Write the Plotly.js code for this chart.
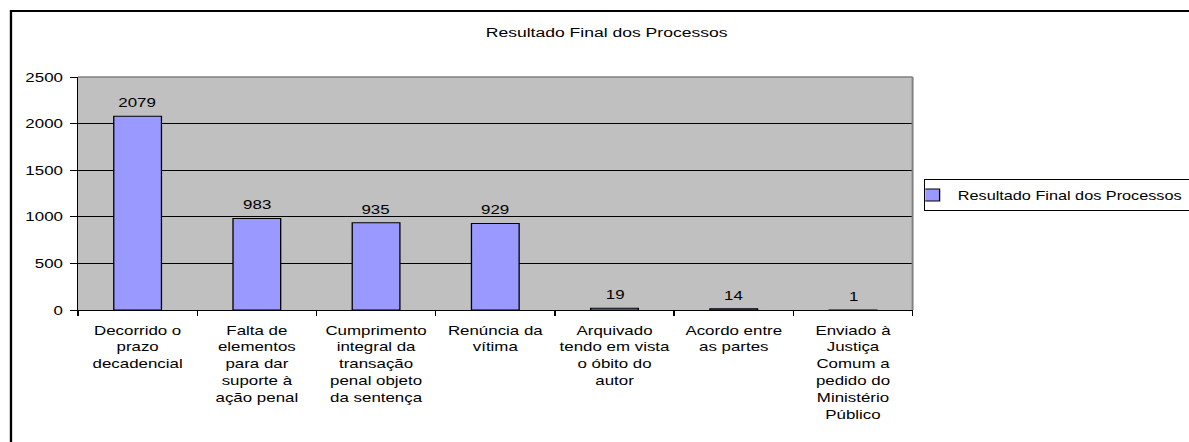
<!DOCTYPE html>
<html>
<head>
<meta charset="utf-8">
<script src="https://cdn.plot.ly/plotly-3.0.1.min.js"></script>
<style>
  html, body { margin: 0; padding: 0; background: #ffffff; overflow: hidden; width: 1189px; height: 442px; }
  #chart { width: 915px; height: 442px; transform: scaleX(1.3); transform-origin: 0 0; }
</style>
</head>
<body>
<div id="chart"></div>
<script>
const chartTitle = 'Resultado Final dos Processos';
const seriesName = 'Resultado Final dos Processos';
const categories = [
  'Decorrido o prazo decadencial',
  'Falta de elementos para dar suporte à ação penal',
  'Cumprimento integral da transação penal objeto da sentença',
  'Renúncia da vítima',
  'Arquivado tendo em vista o óbito do autor',
  'Acordo entre as partes',
  'Enviado à Justiça Comum a pedido do Ministério Público'
];
const tickLabels = [
  'Decorrido o<br>prazo<br>decadencial',
  'Falta de<br>elementos<br>para dar<br>suporte à<br>ação penal',
  'Cumprimento<br>integral da<br>transação<br>penal objeto<br>da sentença',
  'Renúncia da<br>vítima',
  'Arquivado<br>tendo em vista<br>o óbito do<br>autor',
  'Acordo entre<br>as partes',
  'Enviado à<br>Justiça<br>Comum a<br>pedido do<br>Ministério<br>Público'
];
const values = [2079, 983, 935, 929, 19, 14, 1];
const yTickVals = [0, 500, 1000, 1500, 2000, 2500];

const FONT = 'Liberation Sans, Arial, sans-serif';

const trace = {
  type: 'bar',
  name: seriesName,
  x: categories,
  y: values,
  marker: { color: '#9999ff', line: { color: '#000000', width: 1 } },
  hoverinfo: 'none'
};

const annotations = categories.map((c, i) => ({
  x: c, y: values[i], xref: 'x', yref: 'y',
  text: String(values[i]),
  showarrow: false, yanchor: 'bottom', xanchor: 'center', yshift: 4,
  font: { family: FONT, size: 13, color: '#000000' }
}));

const layout = {
  width: 915, height: 442,
  margin: { l: 60, r: 213, t: 77, b: 132, pad: 0, autoexpand: false },
  paper_bgcolor: '#ffffff',
  plot_bgcolor: '#c0c0c0',
  font: { family: FONT, size: 13, color: '#000000' },
  title: {
    text: chartTitle,
    font: { family: FONT, size: 13.5, color: '#000000' },
    xref: 'container', x: 0.51, xanchor: 'center',
    yref: 'container', y: 0.928, yanchor: 'middle'
  },
  bargap: 0.6,
  showlegend: true,
  legend: {
    xref: 'container', x: 0.7768, xanchor: 'left',
    yref: 'container', y: 0.594, yanchor: 'top',
    bordercolor: '#000000', borderwidth: 1, bgcolor: '#ffffff',
    font: { family: FONT, size: 12.5, color: '#000000' },
    indentation: -15
  },
  xaxis: {
    type: 'category',
    tickvals: categories, ticktext: tickLabels,
    tickson: 'boundaries', ticks: 'outside', ticklen: 5, tickcolor: '#000000', tickwidth: 1,
    showline: true, linecolor: '#000000', linewidth: 1,
    showgrid: false, zeroline: false,
    tickangle: 0, automargin: false, ticklabelstandoff: 8,
    tickfont: { family: FONT, size: 13, color: '#000000' }
  },
  yaxis: {
    range: [0, 2500], tickvals: yTickVals,
    ticks: 'outside', ticklen: 5, tickcolor: '#000000', tickwidth: 1,
    showline: true, linecolor: '#000000', linewidth: 1,
    showgrid: true, gridcolor: '#000000', gridwidth: 1,
    zeroline: false, automargin: false, ticklabelstandoff: 3,
    tickfont: { family: FONT, size: 13, color: '#000000' }
  },
  shapes: [
    { type: 'line', xref: 'paper', yref: 'paper', x0: 0, x1: 1, y0: 1, y1: 1, line: { color: '#808080', width: 1.5 } },
    { type: 'line', xref: 'paper', yref: 'paper', x0: 1, x1: 1, y0: 0, y1: 1, line: { color: '#808080', width: 1.5 } },
    { type: 'rect', xref: 'paper', yref: 'paper', x0: -0.0803, x1: 1.8, y0: -1, y1: 1.2833, line: { color: '#000000', width: 1.8 } }
  ],
  annotations: annotations
};

Plotly.newPlot('chart', [trace], layout, { displayModeBar: false, staticPlot: true, responsive: false });
</script>
</body>
</html>
